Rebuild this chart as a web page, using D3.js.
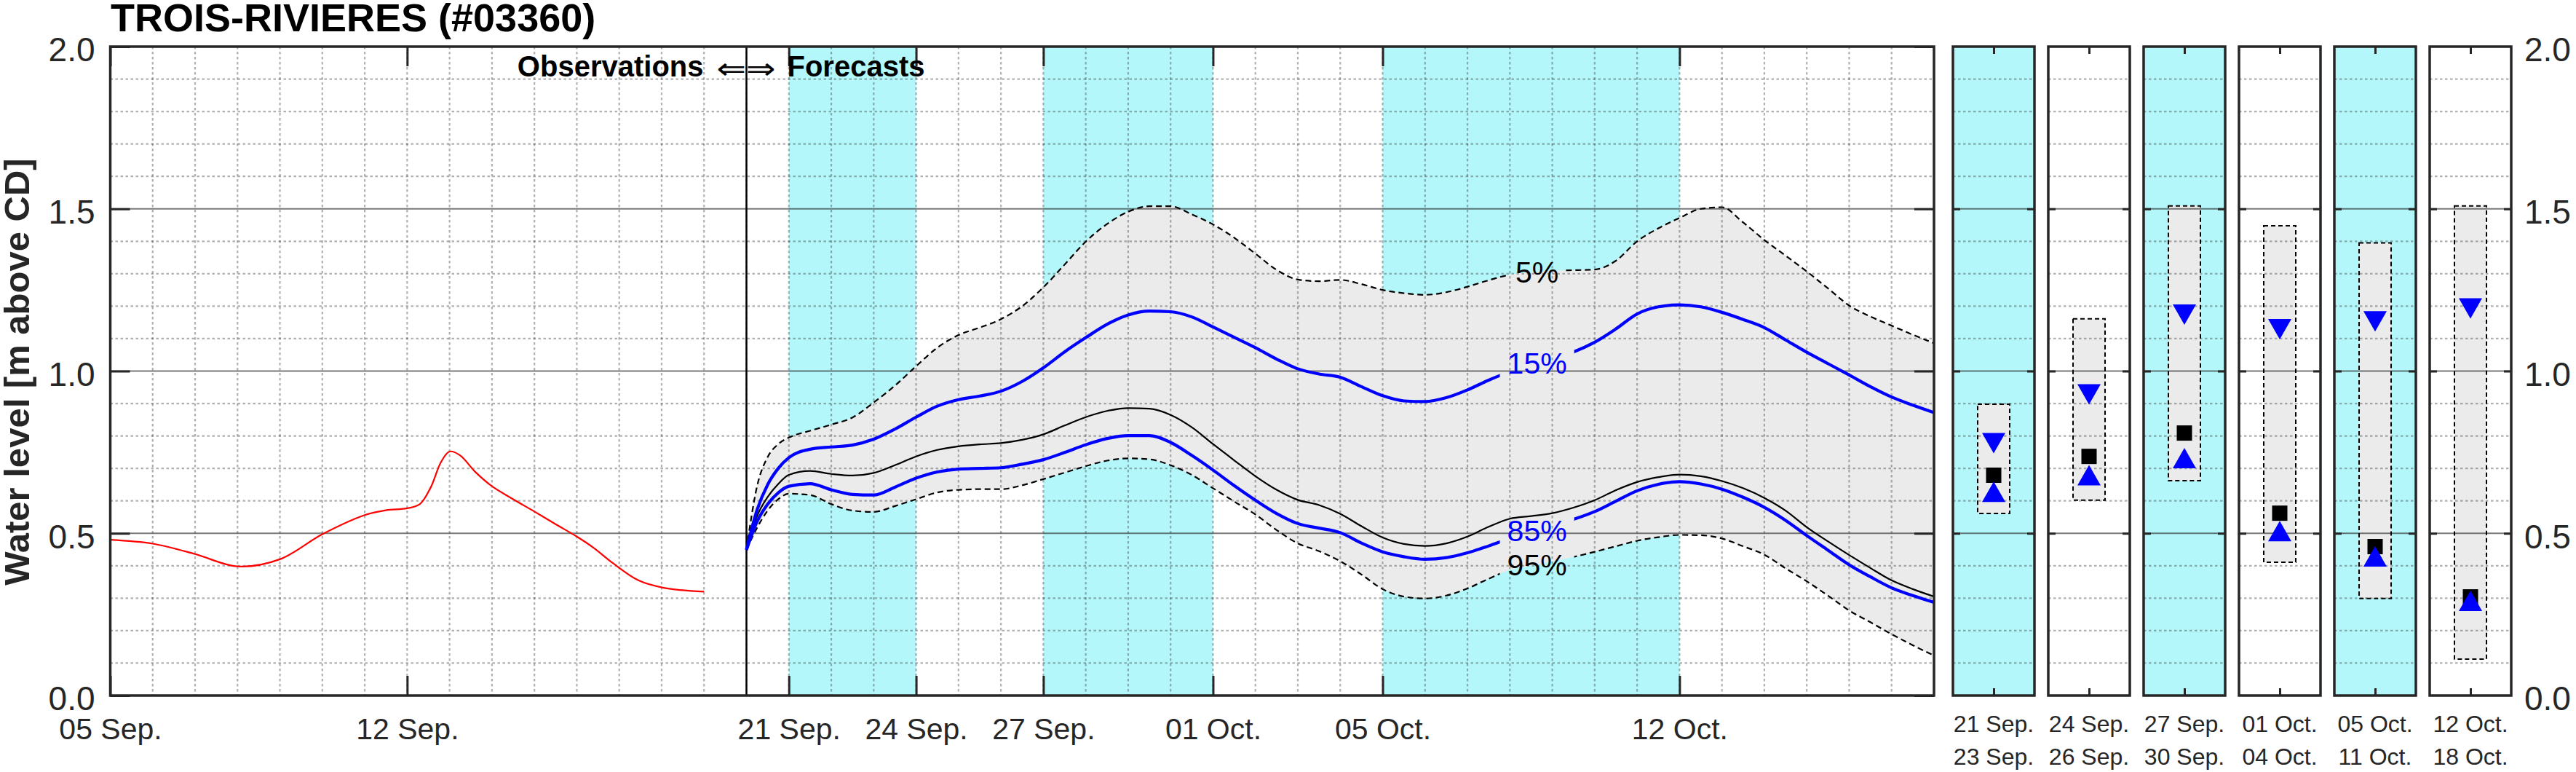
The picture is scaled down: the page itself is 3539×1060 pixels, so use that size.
<!DOCTYPE html>
<html><head><meta charset="utf-8">
<script src="https://cdn.jsdelivr.net/npm/d3@7"></script>
<style>html,body{margin:0;padding:0;background:#fff;} svg{display:block;}</style>
</head><body>
<script>
// ---------------- DATA ----------------
const title = "TROIS-RIVIERES (#03360)";
const yTitle = "Water level [m above CD]";
// observations: days after 05 Sep.
const obsDays  = [0,1,2,3,4,5,6,6.5,7,7.3,7.55,7.8,8,8.25,8.6,9,9.5,10,10.5,11,11.4,11.85,12.45,13.05,14];
const obsLevel = [0.48,0.468,0.436,0.398,0.42,0.497,0.556,0.571,0.577,0.59,0.64,0.72,0.752,0.74,0.69,0.645,0.605,0.567,0.528,0.49,0.455,0.408,0.355,0.332,0.32];
// forecast: days after 20 Sep.
const fcDays = [0,0.25,0.5,0.75,1,1.5,2,2.5,3,3.5,4,4.5,5,5.5,6,6.5,7,7.5,8,8.5,9,9.5,10,10.5,11,11.5,12,12.5,13,13.5,14,14.5,15,15.5,16,16.5,17,17.5,18,18.5,19,19.5,20,20.5,21,21.5,22,22.5,23,23.5,24,24.5,25,25.5,26,26.5,27,27.5,28];
const p05 = [0.45,0.645,0.735,0.775,0.795,0.816,0.835,0.857,0.903,0.955,1.015,1.072,1.111,1.134,1.160,1.200,1.258,1.328,1.399,1.453,1.491,1.508,1.508,1.483,1.452,1.411,1.362,1.312,1.282,1.277,1.281,1.268,1.250,1.240,1.235,1.243,1.260,1.280,1.297,1.305,1.310,1.311,1.313,1.340,1.400,1.440,1.472,1.500,1.505,1.458,1.404,1.356,1.307,1.255,1.202,1.168,1.140,1.112,1.086];
const p15 = [0.449,0.572,0.650,0.700,0.733,0.759,0.766,0.772,0.790,0.821,0.858,0.892,0.912,0.923,0.938,0.968,1.010,1.059,1.103,1.144,1.173,1.185,1.183,1.167,1.136,1.104,1.072,1.037,1.007,0.991,0.981,0.952,0.924,0.908,0.906,0.918,0.942,0.972,0.998,1.019,1.039,1.059,1.089,1.130,1.176,1.198,1.204,1.198,1.181,1.159,1.134,1.096,1.058,1.023,0.988,0.952,0.920,0.895,0.872];
const p50 = [0.449,0.553,0.612,0.652,0.680,0.692,0.683,0.678,0.686,0.710,0.737,0.757,0.768,0.774,0.778,0.788,0.805,0.832,0.858,0.877,0.886,0.884,0.865,0.827,0.775,0.725,0.676,0.634,0.603,0.587,0.560,0.522,0.487,0.467,0.461,0.469,0.490,0.520,0.545,0.553,0.562,0.579,0.602,0.633,0.658,0.673,0.681,0.676,0.661,0.639,0.609,0.570,0.519,0.475,0.433,0.393,0.355,0.328,0.305];
const p85 = [0.449,0.536,0.590,0.625,0.645,0.653,0.634,0.620,0.618,0.642,0.670,0.689,0.698,0.700,0.702,0.713,0.727,0.749,0.773,0.792,0.801,0.801,0.780,0.740,0.695,0.647,0.602,0.561,0.530,0.516,0.502,0.470,0.443,0.428,0.420,0.425,0.440,0.461,0.484,0.504,0.524,0.543,0.567,0.599,0.631,0.651,0.659,0.652,0.636,0.611,0.580,0.540,0.493,0.448,0.403,0.366,0.332,0.308,0.287];
const p95 = [0.449,0.517,0.570,0.605,0.622,0.618,0.590,0.570,0.566,0.584,0.605,0.626,0.634,0.636,0.636,0.648,0.667,0.687,0.707,0.724,0.731,0.728,0.710,0.680,0.639,0.598,0.558,0.510,0.469,0.445,0.414,0.373,0.328,0.305,0.299,0.308,0.330,0.360,0.387,0.400,0.413,0.427,0.443,0.460,0.477,0.488,0.495,0.494,0.484,0.460,0.434,0.392,0.352,0.308,0.262,0.226,0.189,0.155,0.123];
const labelDay = 18.64; // position of the percentile labels (days after 20 Sep.)
// x ticks
const xTickDates  = ["2024-09-05","2024-09-12","2024-09-21","2024-09-24","2024-09-27","2024-10-01","2024-10-05","2024-10-12"];
const xTickLabels = ["05 Sep.","12 Sep.","21 Sep.","24 Sep.","27 Sep.","01 Oct.","05 Oct.","12 Oct."];
// shaded forecast periods
const shadeStart = ["2024-09-21","2024-09-27","2024-10-05"];
const shadeEnd   = ["2024-09-24","2024-10-01","2024-10-12"];
// y ticks
const yTicks = [0,0.5,1,1.5,2];
// summary panels
const panelStart = ["21 Sep.","24 Sep.","27 Sep.","01 Oct.","05 Oct.","12 Oct."];
const panelEnd   = ["23 Sep.","26 Sep.","30 Sep.","04 Oct.","11 Oct.","18 Oct."];
const panelShaded = [true,false,true,false,true,false];
const sum05 = [0.898,1.161,1.509,1.448,1.395,1.509];
const sum15 = [0.778,0.928,1.174,1.129,1.153,1.193];
const sum50 = [0.679,0.737,0.809,0.562,0.459,0.304];
const sum85 = [0.628,0.679,0.732,0.507,0.429,0.292];
const sum95 = [0.561,0.602,0.662,0.411,0.299,0.112];

// ---------------- LAYOUT / STYLE ----------------
const W = 3539, H = 1060;
const FONT = '"Liberation Sans", Arial, Helvetica, sans-serif';
const AX = "#262626", CYAN = "#b3f7fa", BAND = "#ebebeb", BLUE = "#0000ff";
const M = {left:151.5, right:2657, top:64, bottom:955};
const parse = d3.utcParse("%Y-%m-%d");
const DAY = 864e5;
const obs0 = parse("2024-09-05"), fc0 = parse("2024-09-20");

const x = d3.scaleUtc().domain([obs0, parse("2024-10-18")]).range([M.left, M.right]);
const y = d3.scaleLinear().domain([0,2]).range([M.bottom, M.top]);

const svg = d3.select("body").append("svg").attr("width",W).attr("height",H)
  .attr("font-family",FONT);
const defs = svg.append("defs");

// shaded periods
svg.append("g").selectAll("rect").data(shadeStart).join("rect")
  .attr("x",(d)=>x(parse(d))).attr("y",M.top)
  .attr("width",(d,i)=>x(parse(shadeEnd[i]))-x(parse(d))).attr("height",M.bottom-M.top)
  .attr("fill",CYAN);

// forecast data rows
const fc = fcDays.map((t,i)=>({date:new Date(+fc0 + t*DAY), p05:p05[i], p15:p15[i], p50:p50[i], p85:p85[i], p95:p95[i]}));
const obs = obsDays.map((t,i)=>({date:new Date(+obs0 + t*DAY), v:obsLevel[i]}));
const curve = d3.curveMonotoneX;

// band
svg.append("path").datum(fc)
  .attr("d", d3.area().curve(curve).x(d=>x(d.date)).y0(d=>y(d.p95)).y1(d=>y(d.p05)))
  .attr("fill",BAND);

// grid
function hGrid(g, x0, x1){
  const minor = d3.range(1,20).map(k=>k/10).filter(v=>Math.round(v*10)%5!==0);
  const major = [0.5,1,1.5];
  g.append("g").selectAll("line").data(minor).join("line")
    .attr("x1",x0).attr("x2",x1).attr("y1",d=>y(d)).attr("y2",d=>y(d))
    .attr("stroke",AX).attr("stroke-opacity",0.36).attr("stroke-width",2.2).attr("stroke-dasharray","3.5,3.5");
  g.append("g").selectAll("line").data(major).join("line")
    .attr("x1",x0).attr("x2",x1).attr("y1",d=>y(d)).attr("y2",d=>y(d))
    .attr("stroke",AX).attr("stroke-opacity",0.62).attr("stroke-width",2);
}
const grid = svg.append("g");
const days = d3.utcDay.range(new Date(+obs0 + DAY), parse("2024-10-18"));
grid.append("g").selectAll("line").data(days).join("line")
  .attr("x1",d=>x(d)).attr("x2",d=>x(d)).attr("y1",M.top).attr("y2",M.bottom)
  .attr("stroke",AX).attr("stroke-opacity",0.36).attr("stroke-width",2.2).attr("stroke-dasharray","3.5,3.5");
hGrid(grid, M.left, M.right);

// separator obs / forecast
svg.append("line").attr("x1",x(fc0)).attr("x2",x(fc0)).attr("y1",M.top).attr("y2",M.bottom)
  .attr("stroke","#000").attr("stroke-width",2.5);

// observed
svg.append("path").datum(obs)
  .attr("d", d3.line().curve(d3.curveCatmullRom.alpha(0.5)).x(d=>x(d.date)).y(d=>y(d.v)))
  .attr("fill","none").attr("stroke","#ff0000").attr("stroke-width",2.2);

// interpolation helper for label placement
function valAt(arr, t){
  const i = d3.bisectRight(fcDays, t) - 1;
  const f = (t - fcDays[i])/(fcDays[i+1]-fcDays[i]);
  return arr[i] + f*(arr[i+1]-arr[i]);
}
const labDate = new Date(+fc0 + labelDay*DAY);
const lx = x(labDate);
const series = [
  {key:"p05", arr:p05, label:"5%",  color:"#000", width:2.2, dash:"8,5"},
  {key:"p95", arr:p95, label:"95%", color:"#000", width:2.2, dash:"8,5"},
  {key:"p50", arr:p50, label:null,  color:"#000", width:2.2, dash:null},
  {key:"p15", arr:p15, label:"15%", color:BLUE, width:4.2, dash:null},
  {key:"p85", arr:p85, label:"85%", color:BLUE, width:4.2, dash:null},
];
const labelG = svg.append("g").attr("font-size",41).attr("text-anchor","middle");
const lineG = svg.append("g");
series.forEach(s=>{
  const path = lineG.append("path").datum(fc)
    .attr("d", d3.line().curve(curve).x(d=>x(d.date)).y(d=>y(d[s.key])))
    .attr("fill","none").attr("stroke",s.color).attr("stroke-width",s.width);
  if (s.dash) path.attr("stroke-dasharray",s.dash);
  if (s.label){
    const ly = y(valAt(s.arr, labelDay));
    const txt = labelG.append("text").attr("x",lx).attr("y",ly).attr("dy","0.36em")
      .attr("fill",s.color).text(s.label);
    const hw = txt.node().getComputedTextLength()/2 + 10;
    const m = defs.append("mask").attr("id","mask_"+s.key).attr("maskUnits","userSpaceOnUse")
      .attr("x",0).attr("y",0).attr("width",W).attr("height",H);
    m.append("rect").attr("x",0).attr("y",0).attr("width",W).attr("height",H).attr("fill","#fff");
    m.append("rect").attr("x",lx-hw).attr("y",ly-24).attr("width",2*hw).attr("height",48).attr("fill","#000");
    path.attr("mask","url(#mask_"+s.key+")");
  }
});
labelG.raise();

// main frame
svg.append("rect").attr("x",M.left).attr("y",M.top).attr("width",M.right-M.left).attr("height",M.bottom-M.top)
  .attr("fill","none").attr("stroke",AX).attr("stroke-width",3.5);

function styleAxis(g, size){
  g.attr("font-family",FONT).attr("font-size",size);
  g.select(".domain").remove();
  g.selectAll(".tick line").attr("stroke",AX).attr("stroke-width",3);
  g.selectAll(".tick text").attr("fill",AX);
}
const xTicks = xTickDates.map(parse);
styleAxis(svg.append("g").attr("transform",`translate(0,${M.bottom})`)
  .call(d3.axisBottom(x).tickValues(xTicks).tickFormat((d,i)=>xTickLabels[i]).tickSizeInner(-27).tickSizeOuter(0).tickPadding(31)), 41);
styleAxis(svg.append("g").attr("transform",`translate(0,${M.top})`)
  .call(d3.axisTop(x).tickValues(xTicks).tickFormat("").tickSizeInner(-27).tickSizeOuter(0)), 41);
const yl = svg.append("g").attr("transform",`translate(${M.left},0)`)
  .call(d3.axisLeft(y).tickValues(yTicks).tickFormat(d3.format(".1f")).tickSizeInner(-27).tickSizeOuter(0).tickPadding(21));
styleAxis(yl, 46); yl.selectAll(".tick text").attr("dy","0.43em");
styleAxis(svg.append("g").attr("transform",`translate(${M.right},0)`)
  .call(d3.axisRight(y).tickValues(yTicks).tickFormat("").tickSizeInner(-27).tickSizeOuter(0)), 46);

// titles
svg.append("text").attr("x",152).attr("y",43).attr("font-size",54).attr("font-weight","bold").attr("fill","#000").text(title);
svg.append("text").attr("transform",`translate(40,${(M.top+M.bottom)/2+1}) rotate(-90)`)
  .attr("text-anchor","middle").attr("font-size",49).attr("font-weight","bold").attr("fill",AX).text(yTitle);
svg.append("text").attr("x",x(fc0)-59).attr("y",105).attr("text-anchor","end").attr("font-size",40).attr("font-weight","bold").text("Observations");
svg.append("text").attr("x",x(fc0)-41).attr("y",108).attr("font-size",40).attr("font-family",'"DejaVu Sans", sans-serif')
  .attr("textLength",81).attr("lengthAdjust","spacingAndGlyphs").text("\u21D0\u21D2");
svg.append("text").attr("x",x(fc0)+56).attr("y",105).attr("font-size",40).attr("font-weight","bold").text("Forecasts");

// ---------------- SUMMARY PANELS ----------------
const pb = d3.scaleBand().domain(d3.range(panelStart.length)).range([2683,3450]).paddingInner(0.145).paddingOuter(0);
const pw = pb.bandwidth();
panelStart.forEach((lab,i)=>{
  const px = pb(i);
  const cx = px + pw/2;
  const g = svg.append("g");
  if (panelShaded[i]) g.append("rect").attr("x",px).attr("y",M.top).attr("width",pw).attr("height",M.bottom-M.top).attr("fill",CYAN);
  g.append("rect").attr("x",cx-22).attr("y",y(sum05[i])).attr("width",44).attr("height",y(sum95[i])-y(sum05[i]))
    .attr("fill",BAND);
  hGrid(g, px, px+pw);
  g.append("rect").attr("x",cx-22).attr("y",y(sum05[i])).attr("width",44).attr("height",y(sum95[i])-y(sum05[i]))
    .attr("fill","none").attr("stroke","#000").attr("stroke-width",2).attr("stroke-dasharray","6,4");
  const c15 = y(sum15[i]), c50 = y(sum50[i]), c85 = y(sum85[i]);
  g.append("path").attr("d",`M${cx-16},${c15-14}L${cx+16},${c15-14}L${cx},${c15+14}Z`).attr("fill",BLUE);
  g.append("rect").attr("x",cx-10.5).attr("y",c50-10.5).attr("width",21).attr("height",21).attr("fill","#000");
  g.append("path").attr("d",`M${cx-16},${c85+14}L${cx+16},${c85+14}L${cx},${c85-14}Z`).attr("fill",BLUE);
  g.append("rect").attr("x",px).attr("y",M.top).attr("width",pw).attr("height",M.bottom-M.top)
    .attr("fill","none").attr("stroke",AX).attr("stroke-width",3.5);
  const ps = d3.scaleLinear().domain([0,1]).range([px,px+pw]);
  styleAxis(g.append("g").attr("transform",`translate(0,${M.bottom})`).call(d3.axisBottom(ps).tickValues([0.5]).tickFormat("").tickSizeInner(-10).tickSizeOuter(0)),32);
  styleAxis(g.append("g").attr("transform",`translate(0,${M.top})`).call(d3.axisTop(ps).tickValues([0.5]).tickFormat("").tickSizeInner(-10).tickSizeOuter(0)),32);
  styleAxis(g.append("g").attr("transform",`translate(${px},0)`).call(d3.axisLeft(y).tickValues([0.5,1,1.5]).tickFormat("").tickSizeInner(-10).tickSizeOuter(0)),32);
  styleAxis(g.append("g").attr("transform",`translate(${px+pw},0)`).call(d3.axisRight(y).tickValues([0.5,1,1.5]).tickFormat("").tickSizeInner(-10).tickSizeOuter(0)),32);
  g.append("text").attr("x",cx).attr("y",1005).attr("text-anchor","middle").attr("font-size",32).attr("fill",AX).text(lab);
  g.append("text").attr("x",cx).attr("y",1050).attr("text-anchor","middle").attr("font-size",32).attr("fill",AX).text(panelEnd[i]);
});
const yr = svg.append("g").attr("transform",`translate(${pb(panelStart.length-1)+pw},0)`)
  .call(d3.axisRight(y).tickValues(yTicks).tickFormat(d3.format(".1f")).tickSize(0).tickPadding(18));
styleAxis(yr, 46); yr.selectAll(".tick text").attr("dy","0.43em");
</script>
</body></html>
